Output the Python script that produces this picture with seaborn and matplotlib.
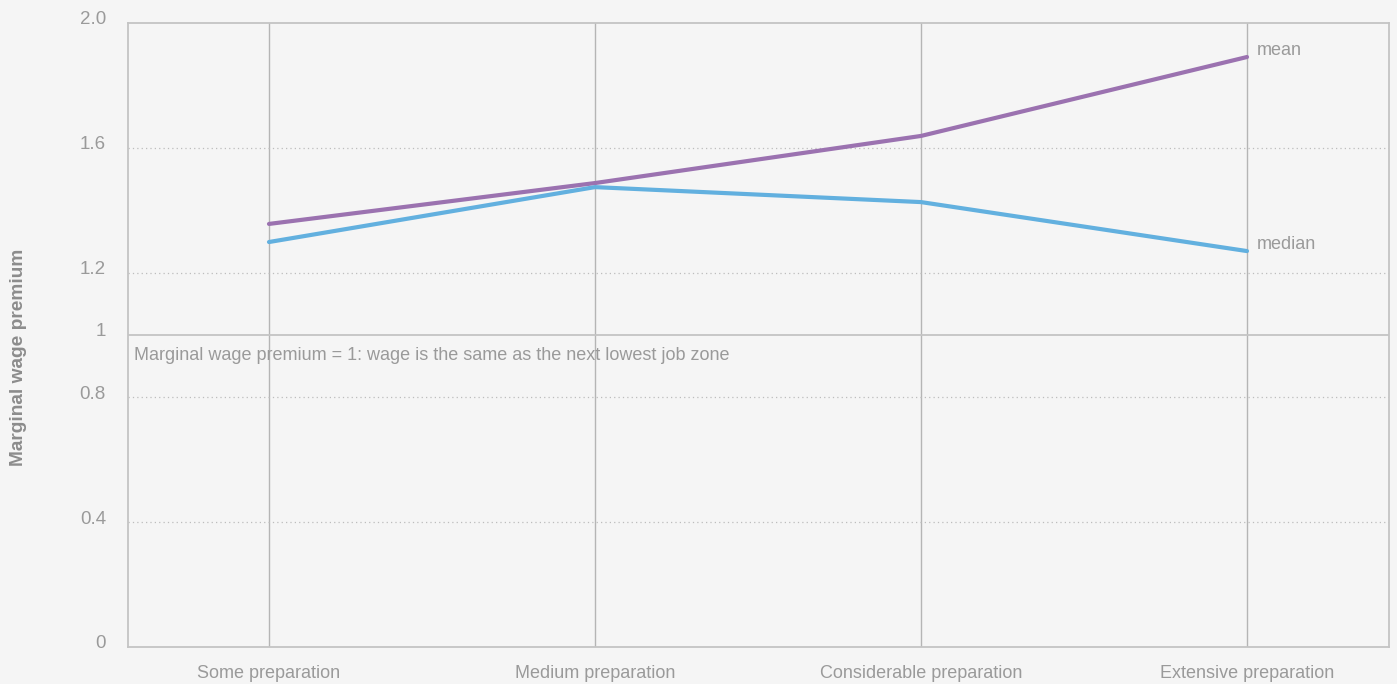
import matplotlib
matplotlib.use("Agg")
import matplotlib.pyplot as plt
import matplotlib.transforms as mtransforms
import seaborn as sns
import pandas as pd

categories = ["Some preparation", "Medium preparation", "Considerable preparation", "Extensive preparation"]
mean_values = [1.356, 1.487, 1.638, 1.891]
median_values = [1.298, 1.474, 1.426, 1.269]
y_ticks = [0, 0.4, 0.8, 1, 1.2, 1.6, 2.0]
y_tick_labels = ["0", "0.4", "0.8", "1", "1.2", "1.6", "2.0"]

sns.set_theme(style="white")
plt.rcParams['font.family'] = ['Liberation Sans', 'DejaVu Sans']

BG = "#f5f5f5"
TXT = "#9a9a9a"
GRID = "#c4c4c4"
colors = {"mean": "#9b72b0", "median": "#62b0df"}

df = pd.DataFrame({
    "x": list(range(len(categories))) * 2,
    "value": mean_values + median_values,
    "series": ["mean"] * len(categories) + ["median"] * len(categories),
})

fig = plt.figure(figsize=(13.97, 6.84), dpi=100, facecolor=BG)
ax = fig.add_axes([128/1397, 1 - 647/684, (1389-128)/1397, (647-23)/684])
ax.set_facecolor(BG)

# gridlines
for i in range(len(categories)):
    ax.axvline(i, color="#b5b5b5", lw=1.0, zorder=1)
for t in [0.4, 0.8, 1.2, 1.6]:
    ax.axhline(t, color="#bdbdbd", lw=0.9, ls=(0, (1, 2.5)), zorder=1)
ax.axhline(1, color=GRID, lw=1.3, zorder=1)

sns.lineplot(data=df, x="x", y="value", hue="series", palette=colors,
             lw=3, legend=False, ax=ax, zorder=3)

ax.set_xlim(-0.4325, 3.4356)
ax.set_ylim(0, 2.0)

for s in ax.spines.values():
    s.set_color(GRID)
    s.set_linewidth(1.3)

ax.set_xticks(range(len(categories)))
ax.set_xticklabels(categories, color=TXT, fontsize=13)
ax.tick_params(axis="x", length=0, pad=13)
ax.set_yticks([])
ax.set_xlabel("")
ax.set_ylabel("")

up3 = ax.transData + mtransforms.ScaledTranslation(0, 3/100, fig.dpi_scale_trans)
for t, lab in zip(y_ticks, y_tick_labels):
    ax.text(-0.5, t, lab, transform=up3, ha="right", va="center",
            color=TXT, fontsize=13.5, clip_on=False)

up7 = ax.transData + mtransforms.ScaledTranslation(0, 7/100, fig.dpi_scale_trans)
last = len(categories) - 1
ax.text(last + 0.03, mean_values[-1], "mean", color=TXT, fontsize=13,
        ha="left", va="center", transform=up7)
ax.text(last + 0.03, median_values[-1], "median", color=TXT, fontsize=13,
        ha="left", va="center", transform=up7)

ax.text(-0.415, 0.935, "Marginal wage premium = 1: wage is the same as the next lowest job zone",
        color=TXT, fontsize=13, ha="left", va="center")

fig.text(19/1397, 1 - 357/684, "Marginal wage premium", rotation=90, color="#8c8c8c",
         fontsize=13.8, fontweight="bold", ha="center", va="center")

fig.savefig("out.png", dpi=100, facecolor=BG)
